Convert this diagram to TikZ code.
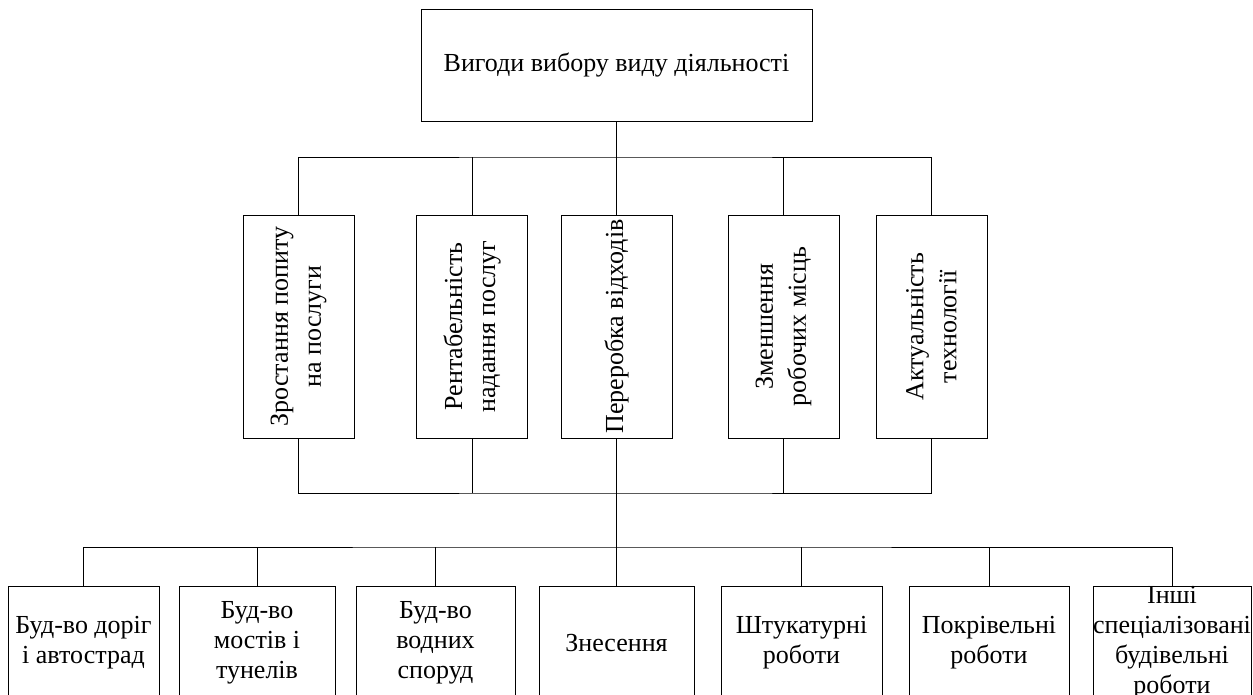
\documentclass[tikz,border=0pt]{standalone}
\usepackage{fontspec}
\setmainfont{Liberation Serif}
\begin{document}
\begin{tikzpicture}[x=1pt,y=-1pt,
  box/.style={draw=black, line width=1pt, inner sep=0pt, align=center, font=\fontsize{26}{30}\selectfont},
  vbox/.style={box, rotate=90, minimum width=223pt, minimum height=111pt, font=\fontsize{26}{33}\selectfont},
  bbox/.style={box, minimum height=114pt},
  link/.style={draw=black, line width=1pt}]
\useasboundingbox (0,0) rectangle (1253,694);
\clip (0,0) rectangle (1253,694);
\fill[white] (0,0) rectangle (1253,694);
% top
\node[box, minimum width=391pt, minimum height=112pt] (top) at (616.5,65) {Вигоди вибору виду діяльності};
% middle row
\node[vbox] (m1) at (298.5,326.5) {Зростання попиту\\на послуги};
\node[vbox] (m2) at (472,326.5) {Рентабельність\\надання послуг};
\node[vbox] (m3) at (616.5,326.5) {Переробка відходів};
\node[vbox] (m4) at (783.5,326.5) {Зменшення\\робочих місць};
\node[vbox] (m5) at (931.5,326.5) {Актуальність\\технології};
% bottom row
\node[bbox, minimum width=151pt] (b1) at (83.5,643) {Буд-во доріг\\і автострад};
\node[bbox, minimum width=156pt] (b2) at (257,643) {Буд-во\\мостів і\\тунелів};
\node[bbox, minimum width=159pt] (b3) at (435.5,643) {Буд-во\\водних\\споруд};
\node[bbox, minimum width=155pt] (b4) at (616.5,643) {Знесення};
\node[bbox, minimum width=161pt] (b5) at (801.5,643) {Штукатурні\\роботи};
\node[bbox, minimum width=160pt] (b6) at (989,643) {Покрівельні\\роботи};
\node[bbox, minimum width=158pt] (b7) at (1172,643) {Інші\\спеціалізовані\\будівельні\\роботи};
% buses
\coordinate (bus1) at (616.5,157);
\coordinate (bus2) at (616.5,493);
\coordinate (bus3) at (616.5,547);
\draw[link] (top.south) -- (bus1);
\draw[link] (m1.east) |- (bus1) -| (m5.east);
\foreach \n in {m2,m3,m4} \draw[link] (\n.east) -- (\n.east |- bus1);
\draw[link] (m1.west) |- (bus2) -| (m5.west);
\foreach \n in {m2,m3,m4} \draw[link] (\n.west) -- (\n.west |- bus2);
\draw[link] (bus2) -- (bus3);
\draw[link] (b1.north) |- (bus3) -| (b7.north);
\foreach \n in {b2,b3,b4,b5,b6} \draw[link] (\n.north) -- (\n.north |- bus3);
\end{tikzpicture}
\end{document}
